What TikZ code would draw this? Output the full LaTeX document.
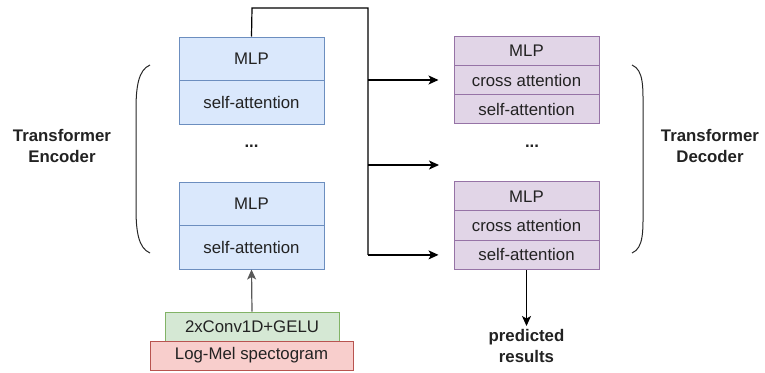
\documentclass[tikz,border=0pt]{standalone}
\usepackage{fontspec}
\setmainfont{Liberation Sans}
\usetikzlibrary{arrows.meta}
\definecolor{encfill}{HTML}{DAE8FC}
\definecolor{encdraw}{HTML}{6C8EBF}
\definecolor{decfill}{HTML}{E1D5E7}
\definecolor{decdraw}{HTML}{9673A6}
\definecolor{grnfill}{HTML}{D5E8D4}
\definecolor{grndraw}{HTML}{82B366}
\definecolor{redfill}{HTML}{F8CECC}
\definecolor{reddraw}{HTML}{B85450}
\definecolor{txt}{HTML}{222222}
\tikzset{
  row/.style={draw, line width=1pt, inner sep=0pt, minimum width=145pt, text=txt,
    font=\fontsize{16.8}{19}\selectfont},
  encrow/.style={row, fill=encfill, draw=encdraw},
  decrow/.style={row, fill=decfill, draw=decdraw, minimum height=29.33pt},
  lbl/.style={align=center, text=txt, font=\fontsize{16.8}{21}\selectfont\bfseries},
  dots/.style={text=txt, font=\fontsize{16.8}{19}\selectfont\bfseries},
  conn/.style={line width=1.2pt, draw=black},
  arr/.style={conn, -{Stealth[length=10pt,width=9pt,inset=2.5pt]}},
  brk/.style={line width=1pt, draw=black!85}
}
\begin{document}
\begin{tikzpicture}[x=1pt,y=-1pt]
\useasboundingbox (0,0) rectangle (765,372);
% encoder blocks
\node[encrow, minimum height=43pt] (e1mlp) at (251.5,58.5) {MLP};
\node[encrow, minimum height=44pt] (e1sa) at (251.5,102) {self-attention};
\node[encrow, minimum height=43pt] (e2mlp) at (251.5,203.5) {MLP};
\node[encrow, minimum height=44pt] (e2sa) at (251.5,247) {self-attention};
\node[dots] (edots) at (251.5,146) {...};
% decoder blocks
\node[decrow] (d1mlp) at (526.5,50.7) {MLP};
\node[decrow] (d1ca) at (526.5,80) {cross attention};
\node[decrow] (d1sa) at (526.5,109.3) {self-attention};
\node[decrow] (d2mlp) at (526.5,196.3) {MLP};
\node[decrow] (d2ca) at (526.5,225.6) {cross attention};
\node[decrow] (d2sa) at (526.5,254.9) {self-attention};
\node[dots] (ddots) at (532,146) {...};
% input boxes
\node[row, fill=grnfill, draw=grndraw, minimum width=174pt, minimum height=29pt] (conv) at (252,326.5) {2xConv1D+GELU};
\node[row, fill=redfill, draw=reddraw, minimum width=203pt, minimum height=29pt] (mel) at (251.5,355.5) {Log-Mel spectogram};
% labels
\node[lbl] (enclbl) at (62,146) {Transformer\\Encoder};
\node[lbl] (declbl) at (710,146) {Transformer\\Decoder};
\node[lbl, anchor=north] (pred) at (526.5,326) {predicted\\results};
% brackets
\draw[brk] (150,65) .. controls (138,70) and (136,88) .. (136,110) -- (136,208) .. controls (136,230) and (138,248) .. (150,253);
\draw[brk] (632,65) .. controls (644,70) and (643,88) .. (643,110) -- (643,208) .. controls (643,230) and (644,248) .. (632,253);
% connectors
\coordinate (j1) at (368,80);
\coordinate (j2) at (368,165);
\coordinate (j3) at (368,254.9);
\coordinate (m2) at (439,165);
\draw[conn] (e1mlp.north) -- (252,8) -| (j3);
\draw[arr, shorten >=15pt] (j1) -- (d1ca.west);
\draw[arr] (j2) -- (m2);
\draw[arr, shorten >=15pt] (j3) -- (d2sa.west);
\draw[arr, draw=black!65, fill=black!65] (conv.north) -- (e2sa.south);
\draw[arr] (d2sa.south) -- (pred.north);
\end{tikzpicture}
\end{document}
